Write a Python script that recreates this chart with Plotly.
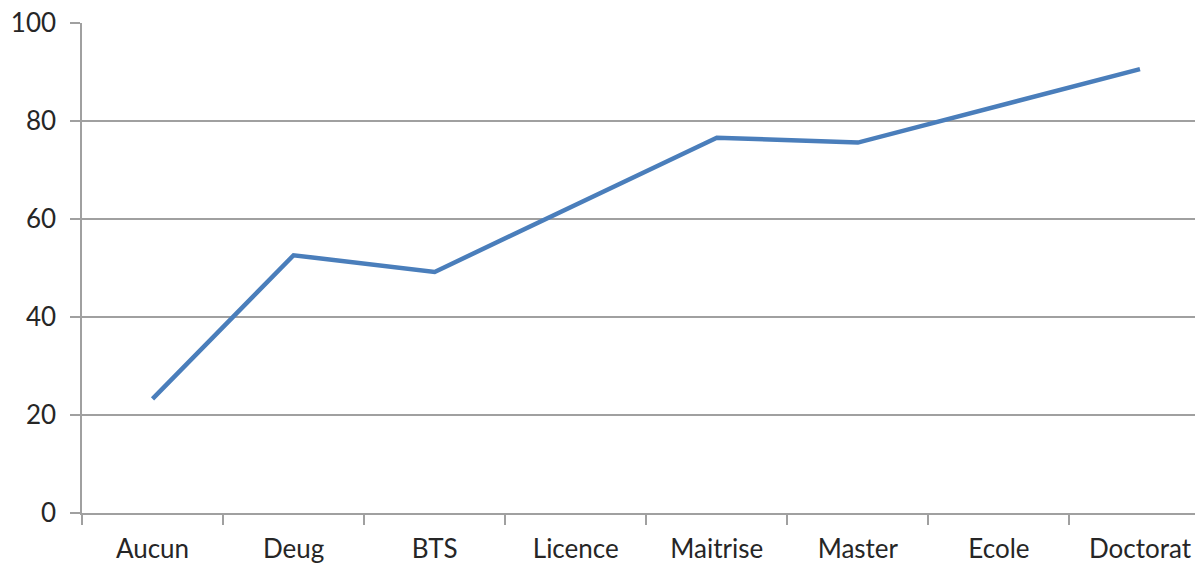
import plotly.graph_objects as go

categories = ["Aucun", "Deug", "BTS", "Licence", "Maitrise", "Master", "Ecole", "Doctorat"]
values = [23.3, 52.6, 49.2, 62.9, 76.6, 75.6, 83.0, 90.6]
y_ticks = [0, 20, 40, 60, 80, 100]

fig = go.Figure()
fig.add_trace(go.Scatter(
    x=categories, y=values, mode="lines",
    line=dict(color="#4A7EBB", width=4.5),
    hoverinfo="x+y", showlegend=False,
))

font = dict(family="Lato, 'Open Sans', sans-serif", size=26, color="#262626")

fig.update_layout(
    width=1195, height=566,
    margin=dict(l=82, r=0, t=23, b=53, autoexpand=False),
    paper_bgcolor="white", plot_bgcolor="white",
    font=font,
    xaxis=dict(
        type="category", categoryorder="array", categoryarray=categories,
        range=[-0.5, 7.39], automargin=False,
        showgrid=False, zeroline=False,
        showline=True, linecolor="#A0A0A0", linewidth=1.5,
        ticks="outside", tickson="boundaries", ticklen=10, tickcolor="#A0A0A0", tickwidth=1.5,
        ticklabelstandoff=12, ticklabeloverflow="allow",
        tickfont=font,
    ),
    yaxis=dict(
        range=[0, 100], tickvals=y_ticks, automargin=False,
        showgrid=True, gridcolor="#A0A0A0", gridwidth=1.5,
        zeroline=False,
        showline=True, linecolor="#A0A0A0", linewidth=1.5,
        ticks="outside", ticklen=10, tickcolor="#A0A0A0", tickwidth=1.5,
        ticklabelstandoff=9, ticklabeloverflow="allow",
        tickfont=font,
    ),
)

fig.write_html(
    "out.html",
    config={"displayModeBar": False},
    post_script="document.body.style.margin='0';document.body.style.overflow='hidden';",
)
